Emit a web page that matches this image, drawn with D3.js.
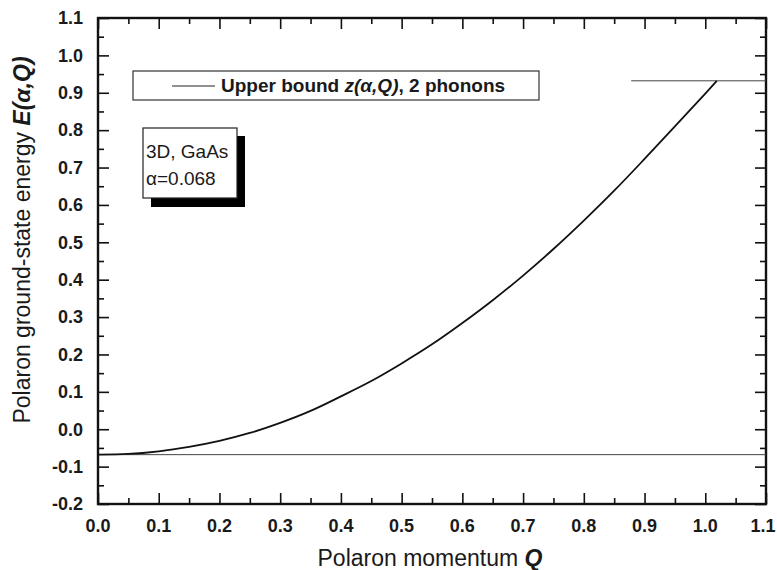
<!DOCTYPE html>
<html>
<head>
<meta charset="utf-8">
<script src="https://cdn.jsdelivr.net/npm/d3@7"></script>
<style>
  body { margin: 0; background: #fff; }
  svg text { font-family: "Liberation Sans", Arial, Helvetica, sans-serif; }
</style>
</head>
<body>
<div id="chart"></div>
<script>
// polaron energy curve
const momentum = [0.00, 0.05, 0.10, 0.15, 0.20, 0.25, 0.30, 0.35, 0.40, 0.45, 0.50,
                  0.55, 0.60, 0.65, 0.70, 0.75, 0.80, 0.85, 0.90, 0.95, 1.00, 1.019]
const energy = [-0.068, -0.066, -0.059, -0.047, -0.031, -0.010, 0.017, 0.049, 0.088, 0.129, 0.176,
                0.227, 0.284, 0.345, 0.411, 0.482, 0.558, 0.638, 0.723, 0.810, 0.898, 0.932]
const upperBound = 0.932
const upperBoundFrom = 0.878
const groundLevel = -0.068
const xTicks = [0.0, 0.1, 0.2, 0.3, 0.4, 0.5, 0.6, 0.7, 0.8, 0.9, 1.0, 1.1]
const yTicks = [-0.2, -0.1, 0.0, 0.1, 0.2, 0.3, 0.4, 0.5, 0.6, 0.7, 0.8, 0.9, 1.0, 1.1]

const W = 777, H = 570
const margin = {left: 98, right: 11, top: 18, bottom: 66}

const svg = d3.select("#chart").append("svg")
  .attr("width", W)
  .attr("height", H)

const x = d3.scaleLinear().domain([0, 1.1]).range([margin.left, W - margin.right])
const y = d3.scaleLinear().domain([-0.2, 1.1]).range([H - margin.bottom, margin.top])

const minorX = d3.range(0.05, 1.1, 0.1)
const minorY = d3.range(-0.15, 1.1, 0.1)

// axes, ticks pointing inward on all four sides
function tickAxis(axisFn, scale, major, minor, transform) {
  const g = svg.append("g").attr("transform", transform)
  g.call(axisFn(scale).tickValues(major).tickSize(11).tickFormat(""))
  g.call(g2 => g2.selectAll(".domain").remove())
  const gm = svg.append("g").attr("transform", transform)
  gm.call(axisFn(scale).tickValues(minor).tickSize(6).tickFormat(""))
  gm.call(g2 => g2.selectAll(".domain").remove())
  svg.selectAll(".tick line").attr("stroke", "#111").attr("stroke-width", 1.6)
  return g
}

const bottomY = H - margin.bottom
const rightX = W - margin.right
tickAxis(d3.axisTop, x, xTicks, minorX, `translate(0,${bottomY})`)
tickAxis(d3.axisBottom, x, xTicks, minorX, `translate(0,${margin.top})`)
tickAxis(d3.axisRight, y, yTicks, minorY, `translate(${margin.left},0)`)
tickAxis(d3.axisLeft, y, yTicks, minorY, `translate(${rightX},0)`)

// tick labels (last one kept inside the page)
svg.append("g").selectAll("text")
  .data(xTicks)
  .join("text")
  .attr("x", d => Math.min(x(d), W - 14))
  .attr("y", bottomY + 28)
  .attr("text-anchor", "middle")
  .attr("font-size", 18)
  .attr("font-weight", "bold")
  .attr("fill", "#1a1a1a")
  .text(d => d.toFixed(1))

svg.append("g").selectAll("text")
  .data(yTicks)
  .join("text")
  .attr("x", margin.left - 15)
  .attr("y", d => y(d))
  .attr("dy", "0.35em")
  .attr("text-anchor", "end")
  .attr("font-size", 18)
  .attr("font-weight", "bold")
  .attr("fill", "#1a1a1a")
  .text(d => d.toFixed(1))

// frame
svg.append("rect")
  .attr("x", margin.left)
  .attr("y", margin.top)
  .attr("width", rightX - margin.left)
  .attr("height", bottomY - margin.top)
  .attr("fill", "none")
  .attr("stroke", "#111")
  .attr("stroke-width", 2.4)

// horizontal reference lines
svg.append("line")
  .attr("x1", x(0)).attr("x2", x(1.1))
  .attr("y1", y(groundLevel)).attr("y2", y(groundLevel))
  .attr("stroke", "#444").attr("stroke-width", 1)

svg.append("line")
  .attr("x1", x(upperBoundFrom)).attr("x2", x(1.1))
  .attr("y1", y(upperBound)).attr("y2", y(upperBound))
  .attr("stroke", "#444").attr("stroke-width", 1)

// energy curve
const pts = momentum.map((q, i) => [q, energy[i]])
svg.append("path")
  .datum(pts)
  .attr("fill", "none")
  .attr("stroke", "#111")
  .attr("stroke-width", 1.8)
  .attr("d", d3.line().x(d => x(d[0])).y(d => y(d[1])).curve(d3.curveMonotoneX))

// legend box
svg.append("rect")
  .attr("x", 133).attr("y", 71)
  .attr("width", 406).attr("height", 29)
  .attr("fill", "#fff").attr("stroke", "#333").attr("stroke-width", 1.2)
svg.append("line")
  .attr("x1", 172).attr("x2", 215).attr("y1", 86).attr("y2", 86)
  .attr("stroke", "#222").attr("stroke-width", 1.2)
const leg = svg.append("text")
  .attr("x", 221).attr("y", 92)
  .attr("font-size", 19).attr("font-weight", "bold").attr("fill", "#1a1a1a")
leg.append("tspan").text("Upper bound ")
leg.append("tspan").attr("font-style", "italic").text("z(α,Q)")
leg.append("tspan").text(", 2 phonons")

// info box with shadow
svg.append("rect")
  .attr("x", 151).attr("y", 136)
  .attr("width", 94).attr("height", 71)
  .attr("fill", "#000")
svg.append("rect")
  .attr("x", 143).attr("y", 128)
  .attr("width", 94).attr("height", 70)
  .attr("fill", "#fff").attr("stroke", "#222").attr("stroke-width", 1.2)
svg.append("text")
  .attr("x", 146).attr("y", 158)
  .attr("font-size", 19).attr("fill", "#1a1a1a")
  .text("3D, GaAs")
svg.append("text")
  .attr("x", 146).attr("y", 185)
  .attr("font-size", 19).attr("fill", "#1a1a1a")
  .text("α=0.068")

// axis titles
const xt = svg.append("text")
  .attr("x", 430)
  .attr("y", 566)
  .attr("text-anchor", "middle")
  .attr("font-size", 23).attr("fill", "#1a1a1a")
xt.append("tspan").text("Polaron momentum ")
xt.append("tspan").attr("font-weight", "bold").attr("font-style", "italic").text("Q")

const yt = svg.append("text")
  .attr("transform", "translate(30,240) rotate(-90)")
  .attr("text-anchor", "middle")
  .attr("font-size", 23).attr("fill", "#1a1a1a")
yt.append("tspan").text("Polaron ground-state energy ")
yt.append("tspan").attr("font-weight", "bold").attr("font-style", "italic").text("E(α,Q)")
</script>
</body>
</html>
